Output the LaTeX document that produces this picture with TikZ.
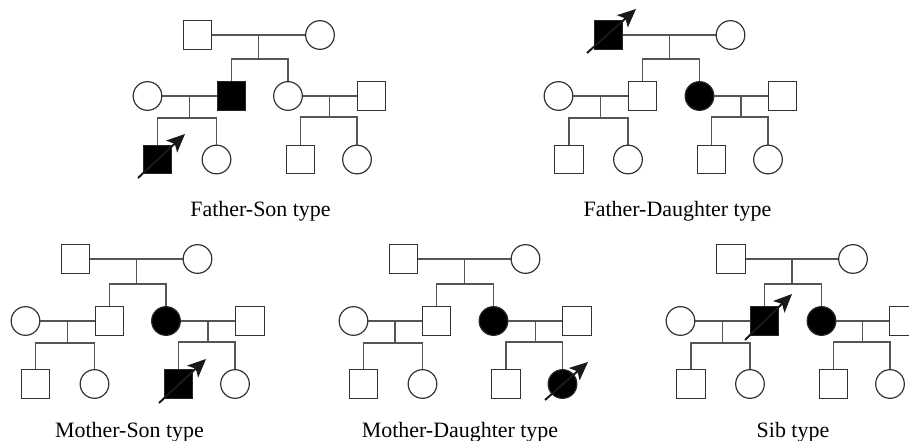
\documentclass[tikz,border=0pt]{standalone}
\usepackage{fontspec}
\setmainfont{Liberation Serif}
\usetikzlibrary{calc,arrows.meta}
\definecolor{lncol}{HTML}{555555}
\definecolor{shcol}{HTML}{333333}
\tikzset{
  sqbox/.style={rectangle,draw=shcol,line width=0.85pt,minimum size=20.4pt,inner sep=0pt,fill=white},
  cibox/.style={circle,draw=shcol,line width=0.85pt,minimum size=20.4pt,inner sep=0pt,fill=white},
  fsqbox/.style={sqbox,fill=black,draw=black!85},
  fcibox/.style={cibox,fill=black,draw=black!85},
  ln/.style={draw=lncol,line width=0.85pt},
  probarrow/.style={draw=black!90,line width=1.4pt,-{Stealth[length=13pt,width=11.5pt,inset=3pt]}},
  lbl/.style={font=\fontsize{15.6}{18}\selectfont,inner sep=0pt,anchor=center}
}
% marriage + descent lines: #1 #2 spouses, #3 #4 outer children, #5 sibship y
\newcommand\pedfam[5]{%
  \draw[ln] (#1) -- (#2);
  \coordinate (#1#2m) at ($(#1)!0.5!(#2)$);
  \draw[ln] (#1#2m) -- (#1#2m |- 0,#5);
  \draw[ln] (#3.north) -- (#3.north |- 0,#5) -| (#4.north);
}
\begin{document}
\begin{tikzpicture}[x=0.025cm,y=-0.025cm]
\useasboundingbox (0,0) rectangle (909,441);
\fill[white] (0,0) rectangle (909,441);

% ---------- Panel 1: Father-Son ----------
\node[sqbox] (fa1) at (197.5,35) {};
\node[cibox] (mo1) at (320,35) {};
\node[fsqbox] (ca1) at (231.5,96) {};
\node[cibox] (cb1) at (288,96) {};
\node[cibox] (sa1) at (147.5,96) {};
\node[sqbox] (sb1) at (371.5,96) {};
\node[fsqbox] (ga1) at (157.5,159.5) {};
\node[cibox] (gb1) at (216.5,159.5) {};
\node[sqbox] (gc1) at (300.5,159.5) {};
\node[cibox] (gd1) at (357,159.5) {};
\pedfam{fa1}{mo1}{ca1}{cb1}{59}
\pedfam{sa1}{ca1}{ga1}{gb1}{118}
\pedfam{cb1}{sb1}{gc1}{gd1}{117}
\coordinate (ar1s) at (138,178);
\coordinate (ar1e) at (185,134);
\draw[probarrow] (ar1s) -- (ar1e);
\node[lbl] (t1) at (260.5,211) {Father-Son type};

% ---------- Panel 2: Father-Daughter ----------
\node[fsqbox] (fa2) at (608.5,35) {};
\node[cibox] (mo2) at (730.5,35) {};
\node[sqbox] (ca2) at (642.5,96) {};
\node[fcibox] (cb2) at (699.5,96) {};
\node[cibox] (sa2) at (558.5,96) {};
\node[sqbox] (sb2) at (782.5,96) {};
\node[sqbox] (ga2) at (569,159.5) {};
\node[cibox] (gb2) at (628,159.5) {};
\node[sqbox] (gc2) at (711.5,159.5) {};
\node[cibox] (gd2) at (768,159.5) {};
\pedfam{fa2}{mo2}{ca2}{cb2}{59}
\pedfam{sa2}{ca2}{ga2}{gb2}{118}
\pedfam{cb2}{sb2}{gc2}{gd2}{117}
\coordinate (ar2s) at (587,53);
\coordinate (ar2e) at (636,9);
\draw[probarrow] (ar2s) -- (ar2e);
\node[lbl] (t2) at (677.5,211) {Father-Daughter type};

% ---------- Panel 3: Mother-Son ----------
\node[sqbox] (fa3) at (75.5,259) {};
\node[cibox] (mo3) at (197.5,259) {};
\node[sqbox] (ca3) at (109.5,321) {};
\node[fcibox] (cb3) at (166,321) {};
\node[cibox] (sa3) at (25.5,321) {};
\node[sqbox] (sb3) at (250,321) {};
\node[sqbox] (ga3) at (35.5,384) {};
\node[cibox] (gb3) at (94.5,384) {};
\node[fsqbox] (gc3) at (178.5,384) {};
\node[cibox] (gd3) at (235,384) {};
\pedfam{fa3}{mo3}{ca3}{cb3}{284}
\pedfam{sa3}{ca3}{ga3}{gb3}{343}
\pedfam{cb3}{sb3}{gc3}{gd3}{342}
\coordinate (ar3s) at (159,403);
\coordinate (ar3e) at (206,359);
\draw[probarrow] (ar3s) -- (ar3e);
\node[lbl] (t3) at (129.5,432) {Mother-Son type};

% ---------- Panel 4: Mother-Daughter ----------
\node[sqbox] (fa4) at (403.5,259) {};
\node[cibox] (mo4) at (525.5,259) {};
\node[sqbox] (ca4) at (436.5,321) {};
\node[fcibox] (cb4) at (493.5,321) {};
\node[cibox] (sa4) at (353.5,321) {};
\node[sqbox] (sb4) at (577,321) {};
\node[sqbox] (ga4) at (363.5,384) {};
\node[cibox] (gb4) at (422.5,384) {};
\node[sqbox] (gc4) at (506,384) {};
\node[fcibox] (gd4) at (562.5,384) {};
\pedfam{fa4}{mo4}{ca4}{cb4}{284}
\pedfam{sa4}{ca4}{ga4}{gb4}{343}
\pedfam{cb4}{sb4}{gc4}{gd4}{342}
\coordinate (ar4s) at (545,400);
\coordinate (ar4e) at (588,362);
\draw[probarrow] (ar4s) -- (ar4e);
\node[lbl] (t4) at (460,432) {Mother-Daughter type};

% ---------- Panel 5: Sib ----------
\node[sqbox] (fa5) at (731,259) {};
\node[cibox] (mo5) at (853,259) {};
\node[fsqbox] (ca5) at (764.5,321) {};
\node[fcibox] (cb5) at (821.5,321) {};
\node[cibox] (sa5) at (680.5,321) {};
\node[sqbox] (sb5) at (904,321) {};
\node[sqbox] (ga5) at (691,384) {};
\node[cibox] (gb5) at (750,384) {};
\node[sqbox] (gc5) at (833.5,384) {};
\node[cibox] (gd5) at (890,384) {};
\pedfam{fa5}{mo5}{ca5}{cb5}{284}
\pedfam{sa5}{ca5}{ga5}{gb5}{343}
\pedfam{cb5}{sb5}{gc5}{gd5}{342}
\coordinate (ar5s) at (745,340);
\coordinate (ar5e) at (792,294);
\draw[probarrow] (ar5s) -- (ar5e);
\node[lbl] (t5) at (793,432) {Sib type};
\end{tikzpicture}
\end{document}
